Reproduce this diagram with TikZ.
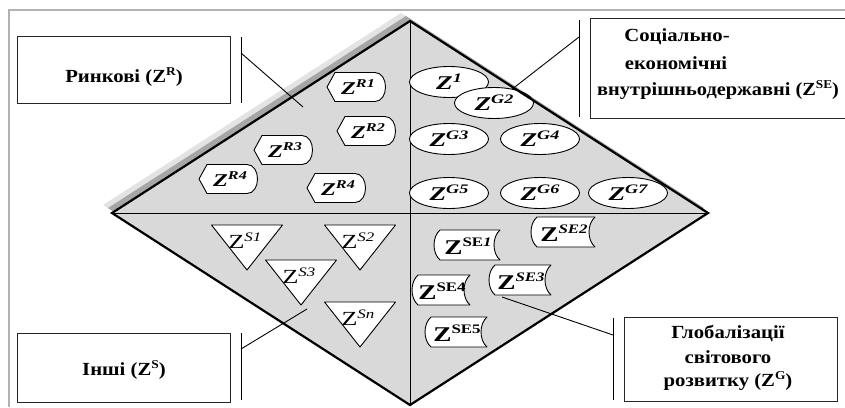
\documentclass[tikz,border=0pt]{standalone}
\usepackage{fontspec}
\setmainfont{Liberation Serif}
\usetikzlibrary{shapes.geometric}
\newcommand\zup[2]{\raisebox{0.36em}{\fontsize{#1}{#1}\selectfont #2}}
\newcommand\fsz[1]{\fontsize{#1}{#1}\selectfont}
\newcommand\wide[2]{\scalebox{#1}[1]{#2}}
% display-like tag: #1 name, #2 x, #3 y, #4 sup
\newcommand\rtag[4]{%
  \begin{scope}[shift={(#2,#3)}]
    \draw[shapeline] (-30,0) -- (-22,-14.5) -- (18,-14.5) .. controls (32,-14.5) and (32,14.5) .. (18,14.5) -- (-22,14.5) -- cycle;
  \end{scope}
  \node (#1) at (#2+1,#3) {\wide{1.35}{\fsz{18}\bfseries\itshape Z\zup{12}{#4}}};}
% ellipse: #1 name, #2 x, #3 y, #4 sup
\newcommand\gell[4]{%
  \node[ellnode] (#1) at (#2,#3) {\wide{1.4}{\fsz{19.5}\bfseries\itshape Z\zup{13}{#4}}};}
% triangle: #1 name, #2 x, #3 top y, #4 sup
\newcommand\stri[4]{%
  \begin{scope}[shift={(#2,#3)}]
    \draw[shapeline] (-35.5,0) -- (35.5,0) -- (0,45) -- cycle;
  \end{scope}
  \node (#1) at (#2-2,#3+16) {\wide{1.3}{\fsz{20}Z\zup{13}{\itshape #4}}};}
% scroll: #1 name, #2 x, #3 y, #4 half width, #5 sup
\newcommand\sescroll[5]{%
  \begin{scope}[shift={(#2,#3)}]
    \draw[shapeline] (-#4+6,-15) -- (#4,-15) .. controls (#4-8,-8) and (#4-8,8) .. (#4,15) -- (-#4+6,15) .. controls (-#4-2,8) and (-#4-2,-8) .. cycle;
  \end{scope}
  \node (#1) at (#2+1,#3+1) {\wide{1.3}{\fsz{21}\bfseries Z\zup{13}{#5}}};}
\begin{document}
\begin{tikzpicture}[x=1pt,y=-1pt,
  every node/.style={inner sep=0pt},
  boxstyle/.style={draw=black!85, line width=1.3pt, anchor=north west},
  linkline/.style={draw=black, line width=0.9pt},
  shapeline/.style={draw=black, line width=0.9pt, fill=white, line join=round},
  ellnode/.style={ellipse, draw=black, line width=0.9pt, fill=white, minimum width=79pt, minimum height=31pt},
  quadline/.style={draw=black, line width=0.9pt},
  rimline/.style={draw=black, line width=2.2pt, line join=miter},
]
\useasboundingbox (0,0) rectangle (845,407);
% outer frame
\draw[gray!60, line width=2pt] (9,407) -- (9,10) -- (845,10);

% diamond
\coordinate (T) at (410,21);
\coordinate (L) at (112,213);
\coordinate (B) at (410,405);
\coordinate (R) at (708,213);
\fill[gray!22] ([shift={(-9,-8)}]T) -- ([shift={(-9,-8)}]R) -- ([shift={(-9,-8)}]B) -- ([shift={(-9,-8)}]L) -- cycle;
\fill[gray!70] ([shift={(-4,-5)}]T) -- ([shift={(-4,-5)}]R) -- ([shift={(-4,-5)}]B) -- ([shift={(-4,-5)}]L) -- cycle;
\fill[gray!30] (T) -- (R) -- (B) -- (L) -- cycle;
\draw[quadline] (L) -- (R);
\draw[quadline] (T) -- (B);

% connector coordinates and lines (drawn below the small shapes)
\coordinate (rvt) at (241,37); \coordinate (rvb) at (241,103);
\coordinate (rvm) at (241,53); \coordinate (rend) at (303,107);
\draw[linkline] (rvt) -- (rvb);
\draw[linkline] (rvm) -- (rend);
\coordinate (svt) at (579,20); \coordinate (svb) at (579,117);
\coordinate (svm) at (579,37); \coordinate (send) at (502,97);
\draw[linkline] (svt) -- (svb);
\draw[linkline] (svm) -- (send);
\coordinate (ivt) at (241,333); \coordinate (ivb) at (241,400);
\coordinate (ivm) at (241,349); \coordinate (iend) at (307,309);
\draw[linkline] (ivt) -- (ivb);
\draw[linkline] (ivm) -- (iend);
\coordinate (gvt) at (613,318); \coordinate (gvb) at (613,400);
\coordinate (gvm) at (613,335); \coordinate (gend) at (502,297);
\draw[linkline] (gvt) -- (gvb);
\draw[linkline] (gvm) -- (gend);

% R quadrant
\rtag{r1}{357}{87}{R1}
\rtag{r2}{367}{131}{R2}
\rtag{r3}{284}{150}{R3}
\rtag{r4a}{229}{179}{R4}
\rtag{r4b}{337}{188}{R4}

% G quadrant
\gell{g1}{449}{82}{1}
\gell{g2}{494}{103}{G2}
\gell{g3}{449}{139}{G3}
\gell{g4}{540}{139}{G4}
\gell{g5}{449}{193}{G5}
\gell{g6}{540}{193}{G6}
\gell{g7}{628}{193}{G7}

% S quadrant
\stri{s1}{247}{225}{S1}
\stri{s2}{360}{225}{S2}
\stri{s3}{301}{260}{S3}
\stri{sn}{360}{302}{Sn}

% SE quadrant
\sescroll{se1}{467}{245}{33}{SE\textit{1}}
\sescroll{se2}{563}{232}{32}{\textit{SE2}}
\sescroll{se3}{520}{280}{31}{\textit{SE3}}
\sescroll{se4}{441}{290}{29}{SE4}
\sescroll{se5}{456}{332}{31}{SE5}

% rim
\draw[rimline] (T) -- (R) -- (B) -- (L) -- cycle;

% Boxes
\node[boxstyle, minimum width=213pt, minimum height=67pt] (boxR) at (17,36) {};
\node (txtR) at (124,77) {\wide{1.12}{\fsz{18.5}\bfseries Ринкові (Z\zup{12}{R})}};

\node[boxstyle, minimum width=255pt, minimum height=100pt] (boxSE) at (590,18) {};
\node (txtSEa) at (677,37) {\wide{1.12}{\fsz{18.5}\bfseries Соціально-}};
\node (txtSEb) at (676,63) {\wide{1.12}{\fsz{18.5}\bfseries економічні}};
\node[anchor=west] (txtSEc) at (597,90) {\wide{1.1}{\fsz{18.5}\bfseries внутрішньодержавні (Z\zup{12}{SE})}};

\node[boxstyle, minimum width=213pt, minimum height=69pt] (boxS) at (17,333) {};
\node (txtS) at (124,370) {\wide{1.12}{\fsz{18.5}\bfseries Інші (Z\zup{12}{S})}};

\node[boxstyle, minimum width=213pt, minimum height=84pt] (boxG) at (624,317) {};
\node (txtGa) at (728,333) {\wide{1.12}{\fsz{18.5}\bfseries Глобалізації}};
\node (txtGb) at (728,357) {\wide{1.12}{\fsz{18.5}\bfseries світового}};
\node (txtGc) at (728,381) {\wide{1.12}{\fsz{18.5}\bfseries розвитку (Z\zup{12}{G})}};
\end{tikzpicture}
\end{document}
